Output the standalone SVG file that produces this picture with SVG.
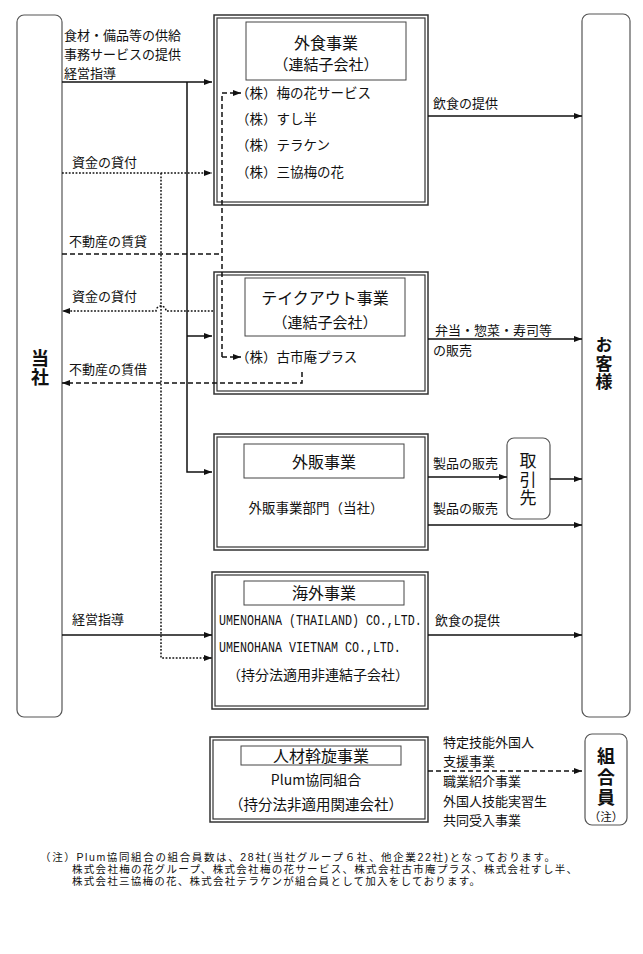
<svg xmlns="http://www.w3.org/2000/svg" width="643" height="954" viewBox="0 0 643 954">
<style>
text{font-family:"Noto Sans CJK JP","Noto Sans",sans-serif;fill:#111}
.lb{font-size:13px}
.it{font-size:13.5px}
.t16{font-size:16px;text-anchor:middle}
.t15{font-size:15px;text-anchor:middle}
.t14{font-size:14px;text-anchor:middle}
.vt{writing-mode:vertical-rl;text-anchor:middle}
.bv{font-size:18px;font-weight:bold}
.en{font-family:"Liberation Mono",monospace;font-size:15px}
.fn{font-family:"Liberation Sans","Noto Sans CJK JP",sans-serif;font-size:10.5px}
.out{fill:#fff;stroke:#333;stroke-width:1.5}
.inn{fill:none;stroke:#333;stroke-width:1.2}
.ttl{fill:#fff;stroke:#444;stroke-width:1}
.rnd{fill:#fff;stroke:#555;stroke-width:1.2}
.s{fill:none;stroke:#111;stroke-width:1.5}
.d{fill:none;stroke:#111;stroke-width:1.5;stroke-dasharray:1.8 1.6}
.ds{fill:none;stroke:#111;stroke-width:1.5;stroke-dasharray:5 3}
</style>
<defs>
<marker id="ar" viewBox="0 0 8 6" refX="8" refY="3" markerWidth="8" markerHeight="6" markerUnits="userSpaceOnUse" orient="auto">
<path d="M0 0L8 3L0 6z" fill="#111"/>
</marker>
</defs>
<rect width="643" height="954" fill="#fff"/>

<g id="tosha">
<rect class="rnd" x="17" y="15" width="45" height="702" rx="7"/>
<text class="vt bv" x="40" y="368" style="letter-spacing:1px">当社</text>
</g>

<g id="okyakusama">
<rect class="rnd" x="582" y="14" width="48" height="703" rx="7"/>
<text class="vt bv" x="604" y="364" style="font-size:17px;letter-spacing:1.5px">お客様</text>
</g>

<g id="gaishoku">
<rect class="out" x="214" y="15" width="214" height="190"/>
<rect class="inn" x="217" y="18" width="208" height="184"/>
<rect class="ttl" x="246" y="22" width="160" height="58"/>
<text class="t16" x="326" y="49">外食事業</text>
<text class="t15" x="326" y="70">（連結子会社）</text>
<text class="it" x="236" y="98">（株）梅の花サービス</text>
<text class="it" x="236" y="124">（株）すし半</text>
<text class="it" x="236" y="150">（株）テラケン</text>
<text class="it" x="236" y="177">（株）三協梅の花</text>
</g>

<g id="takeout">
<rect class="out" x="214" y="272" width="214" height="122"/>
<rect class="inn" x="217" y="275" width="208" height="116"/>
<rect class="ttl" x="245" y="278" width="160" height="58"/>
<text class="t16" x="325" y="304">テイクアウト事業</text>
<text class="t15" x="325" y="328">（連結子会社）</text>
<text class="it" x="236" y="362">（株）古市庵プラス</text>
</g>

<g id="gaihan">
<rect class="out" x="214" y="434" width="214" height="116"/>
<rect class="inn" x="217" y="437" width="208" height="110"/>
<rect class="ttl" x="244" y="444" width="160" height="34"/>
<text class="t16" x="324" y="468">外販事業</text>
<text class="it" x="316" y="513" style="text-anchor:middle">外販事業部門（当社）</text>
</g>

<g id="torihikisaki">
<rect class="rnd" x="507" y="438" width="43" height="81" rx="7"/>
<text class="vt" x="528" y="480" style="font-size:17px;letter-spacing:1.5px">取引先</text>
</g>

<g id="kaigai">
<rect class="out" x="212" y="572" width="216" height="137"/>
<rect class="inn" x="215" y="575" width="210" height="131"/>
<rect class="ttl" x="244" y="581" width="160" height="24"/>
<text class="t16" x="324" y="599">海外事業</text>
<text class="en" transform="translate(219 625) scale(0.778 1)">UMENOHANA (THAILAND) CO.,LTD.</text>
<text class="en" transform="translate(219 652) scale(0.778 1)">UMENOHANA VIETNAM CO.,LTD.</text>
<text class="t14" x="318" y="680">（持分法適用非連結子会社）</text>
</g>

<g id="jinzai">
<rect class="out" x="210" y="737" width="218" height="85"/>
<rect class="inn" x="213" y="740" width="212" height="79"/>
<rect class="ttl" x="241" y="746" width="160" height="19"/>
<text class="t16" x="321" y="762">人材斡旋事業</text>
<text class="t14" x="316" y="785">Plum協同組合</text>
<text class="t14" x="316" y="810" style="font-size:14.5px">（持分法非適用関連会社）</text>
</g>

<g id="kumiaiin">
<rect class="rnd" x="585" y="734" width="42" height="91" rx="7"/>
<text class="vt bv" x="606" y="778" style="letter-spacing:2.5px">組合員</text>
<text class="t14" x="606" y="821" style="font-size:11.5px">（注）</text>
</g>

<g id="connectors">
<path class="s" d="M62 82H212" marker-end="url(#ar)"/>
<path class="s" d="M187 82V472H212" marker-end="url(#ar)"/>
<path class="s" d="M187 336H212" marker-end="url(#ar)"/>
<path class="s" d="M62 635H212" marker-end="url(#ar)"/>
<path class="s" d="M428 116H582" marker-end="url(#ar)"/>
<path class="s" d="M428 339H582" marker-end="url(#ar)"/>
<path class="s" d="M428 477H507" marker-end="url(#ar)"/>
<path class="s" d="M550 479H582" marker-end="url(#ar)"/>
<path class="s" d="M428 525H582" marker-end="url(#ar)"/>
<path class="s" d="M428 635H582" marker-end="url(#ar)"/>
<path class="d" d="M62 173H212" marker-end="url(#ar)"/>
<path class="d" d="M161 173V658H212" marker-end="url(#ar)"/>
<path class="d" d="M213 311H166A5 5 0 0 0 156 311H62" marker-end="url(#ar)"/>
<path class="ds" d="M62 254H222"/>
<path class="ds" d="M222 357V93H241" marker-end="url(#ar)"/>
<path class="ds" d="M222 357H241" marker-end="url(#ar)"/>
<path class="ds" d="M302 372V383H62" marker-end="url(#ar)"/>
<path class="ds" d="M428 771H582" marker-end="url(#ar)"/>
</g>

<g id="labels">
<text class="lb" x="64" y="40">食材・備品等の供給</text>
<text class="lb" x="64" y="59">事務サービスの提供</text>
<text class="lb" x="64" y="78">経営指導</text>
<text class="lb" x="72" y="167">資金の貸付</text>
<text class="lb" x="69" y="246">不動産の賃貸</text>
<text class="lb" x="72" y="301">資金の貸付</text>
<text class="lb" x="69" y="374">不動産の賃借</text>
<text class="lb" x="72" y="624">経営指導</text>
<text class="lb" x="433" y="108">飲食の提供</text>
<text class="lb" x="435" y="335">弁当・惣菜・寿司等</text>
<text class="lb" x="433" y="355">の販売</text>
<text class="lb" x="433" y="468">製品の販売</text>
<text class="lb" x="433" y="513">製品の販売</text>
<text class="lb" x="435" y="625">飲食の提供</text>
<text class="lb" x="443" y="747">特定技能外国人</text>
<text class="lb" x="443" y="766">支援事業</text>
<text class="lb" x="443" y="786">職業紹介事業</text>
<text class="lb" x="443" y="806">外国人技能実習生</text>
<text class="lb" x="443" y="825">共同受入事業</text>
</g>

<g id="footnote">
<text class="fn" x="40" y="861" textLength="515" lengthAdjust="spacing">（注）Plum協同組合の組合員数は、28社(当社グループ６社、他企業22社)となっております。</text>
<text class="fn" x="72" y="873" textLength="505" lengthAdjust="spacing">株式会社梅の花グループ、株式会社梅の花サービス、株式会社古市庵プラス、株式会社すし半、</text>
<text class="fn" x="72" y="885" textLength="408" lengthAdjust="spacing">株式会社三協梅の花、株式会社テラケンが組合員として加入をしております。</text>
</g>
</svg>
